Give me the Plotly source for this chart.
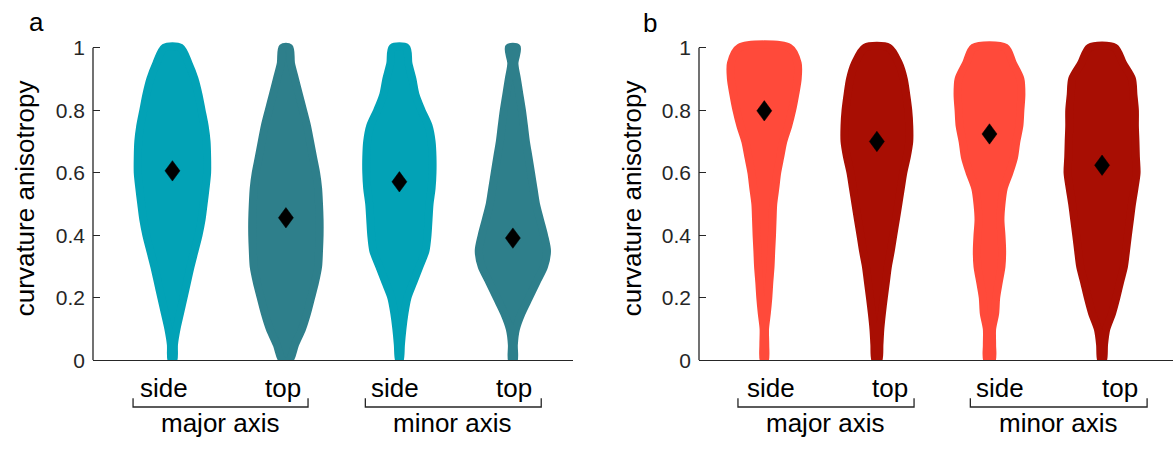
import plotly.graph_objects as go

# ---------------------------------------------------------------------------
# Data
# ---------------------------------------------------------------------------
# curvature-anisotropy levels at which each distribution's width is given
levels = [0.00, 0.05, 0.10, 0.15, 0.20, 0.25, 0.30, 0.35, 0.40, 0.45, 0.50,
          0.55, 0.60, 0.65, 0.70, 0.75, 0.80, 0.85, 0.90, 0.95, 1.00]

view_labels = ["side", "top", "side", "top"]
axis_labels = ["major axis", "minor axis"]

# half-width of each swarm at every level, in % of the spacing between groups
a_major_side = [4.4, 4.9, 7.1, 10.2, 13.3, 16.4, 19.5, 23.0, 26.5, 29.2, 31.0,
                32.7, 34.1, 34.1, 33.6, 31.9, 29.2, 26.5, 23.0, 17.7, 10.6]
a_major_top = [6.6, 11.5, 17.7, 22.1, 25.7, 29.2, 31.9, 32.7, 33.2, 33.2, 32.7,
               31.9, 30.1, 27.4, 24.8, 22.1, 18.6, 15.0, 11.5, 8.0, 6.6]
a_minor_side = [0.9, 4.9, 6.2, 8.0, 10.6, 15.9, 21.2, 26.5, 28.3, 29.2, 30.1,
                31.9, 32.7, 32.7, 31.9, 29.2, 23.0, 17.7, 15.0, 11.5, 9.7]
a_minor_top = [4.4, 4.4, 6.2, 11.1, 17.7, 24.3, 31.0, 33.6, 31.0, 27.4, 23.9,
               21.7, 19.5, 17.3, 15.0, 13.3, 11.5, 9.3, 7.1, 4.9, 7.1]

b_major_side = [4.2, 4.4, 4.2, 5.8, 7.1, 8.0, 9.1, 9.7, 10.4, 10.9, 11.5,
                13.3, 15.0, 17.7, 20.4, 24.8, 28.3, 31.0, 33.2, 33.2, 25.7]
b_major_top = [4.9, 5.8, 6.6, 8.0, 9.7, 11.5, 13.3, 15.9, 18.1, 20.4, 22.6,
               24.8, 27.0, 30.1, 32.3, 32.3, 31.4, 29.6, 27.4, 23.0, 14.2]
b_minor_side = [5.6, 5.9, 5.9, 8.6, 9.5, 11.8, 14.2, 14.8, 14.2, 13.3, 14.2,
                16.2, 21.2, 25.4, 27.4, 30.1, 31.0, 31.9, 31.0, 24.3, 17.7]
b_minor_top = [4.4, 5.3, 7.3, 12.4, 16.2, 19.5, 23.0, 24.8, 26.5, 28.3, 30.1,
               32.3, 34.2, 33.6, 33.2, 32.7, 32.7, 31.4, 30.1, 22.1, 14.8]

# group means (black diamonds)
a_means = [0.606, 0.456, 0.571, 0.391]
b_means = [0.798, 0.700, 0.724, 0.624]

y_tick_values = [0, 0.2, 0.4, 0.6, 0.8, 1.0]
y_tick_text = ["0", "0.2", "0.4", "0.6", "0.8", "1"]

# ---------------------------------------------------------------------------
# Layout / style
# ---------------------------------------------------------------------------
W, H = 1173, 451
FONT = "Liberation Sans, Arial, Helvetica, sans-serif"
AX_COLOR = "#262626"
Y_TOP = 1.03
PLOT_TOP_PX, PLOT_BOTTOM_PX = 369 - 322 * Y_TOP, 369
OUTLINE = 8  # outline width of each swarm, px

panels = [
    dict(letter="a", xaxis="x", yaxis="y", x_px=(93, 573), xrange=(0.3, 4.53),
         widths=[a_major_side, a_major_top, a_minor_side, a_minor_top],
         means=a_means,
         colors=["#02A2B6", "#2E7F8B", "#02A2B6", "#2E7F8B"],
         title_x_px=25, letter_px=(36, 21),
         view_x=[0.93, 1.97, 2.96, 4.01], group_x=[1.42, 3.46],
         brackets=[(0.653, 2.195), (2.70, 4.25)]),
    dict(letter="b", xaxis="x2", yaxis="y2", x_px=(699, 1173), xrange=(0.42, 4.63),
         widths=[b_major_side, b_major_top, b_minor_side, b_minor_top],
         means=b_means,
         colors=["#FF4A3A", "#A80E03", "#FF4A3A", "#A80E03"],
         title_x_px=632, letter_px=(650, 22),
         view_x=[1.06, 2.12, 3.09, 4.16], group_x=[1.54, 3.61],
         brackets=[(0.766, 2.33), (2.83, 4.40)]),
]

y_px_per_unit = (PLOT_BOTTOM_PX - PLOT_TOP_PX) / Y_TOP

fig = go.Figure()
shapes, annotations = [], []
layout_axes = {}

for p in panels:
    x0_px, x1_px = p["x_px"]
    px_per_unit = (x1_px - x0_px) / (p["xrange"][1] - p["xrange"][0])
    shrink = (OUTLINE / 2) / px_per_unit

    for i, (w, color) in enumerate(zip(p["widths"], p["colors"])):
        center = i + 1
        half = [max(v / 100 - shrink, 0.004) for v in w]
        xs = [center + h for h in half] + [center - h for h in half[::-1]]
        ys = levels + levels[::-1]
        fig.add_trace(go.Scatter(
            x=xs + [xs[0]], y=ys + [ys[0]], mode="lines", fill="toself",
            fillcolor=color,
            line=dict(color=color, width=OUTLINE, shape="spline", smoothing=0.8),
            xaxis=p["xaxis"], yaxis=p["yaxis"], hoverinfo="skip",
            showlegend=False))

    # mean markers drawn as tall diamonds
    dx = 7.5 / px_per_unit
    dy = 10.5 / y_px_per_unit
    for i, m in enumerate(p["means"]):
        c = i + 1
        fig.add_trace(go.Scatter(
            x=[c - dx, c, c + dx, c, c - dx], y=[m, m + dy, m, m - dy, m],
            mode="lines", fill="toself", fillcolor="black",
            line=dict(color="black", width=0.5),
            xaxis=p["xaxis"], yaxis=p["yaxis"], hoverinfo="skip",
            showlegend=False))

    suffix = p["xaxis"][1:]
    layout_axes["xaxis" + suffix] = dict(
        domain=[x0_px / W, x1_px / W], range=list(p["xrange"]),
        anchor=p["yaxis"], showline=True, linecolor=AX_COLOR, linewidth=1.3,
        showticklabels=False, ticks="", showgrid=False, zeroline=False)
    layout_axes["yaxis" + suffix] = dict(
        domain=[(H - PLOT_BOTTOM_PX) / H, (H - PLOT_TOP_PX) / H],
        range=[0, Y_TOP], anchor=p["xaxis"], showline=False,
        tickvals=y_tick_values, ticktext=y_tick_text, ticks="inside",
        ticklen=7, tickwidth=1.3, tickcolor=AX_COLOR, ticklabelstandoff=7,
        tickfont=dict(family=FONT, size=21, color=AX_COLOR),
        showgrid=False, zeroline=False)

    # y axis line only spans 0..1
    shapes.append(dict(type="line", xref=p["xaxis"] + " domain", x0=0, x1=0,
                       yref=p["yaxis"], y0=0, y1=1,
                       line=dict(color=AX_COLOR, width=1.3)))

    # group brackets under the axis
    yb_top = (H - 408) / H
    yb_bot = (H - 417) / H
    for (bx0, bx1) in p["brackets"]:
        shapes.append(dict(
            type="path", xref=p["xaxis"], yref="paper",
            path=f"M {bx0},{yb_top} L {bx0},{yb_bot} L {bx1},{yb_bot} L {bx1},{yb_top}",
            line=dict(color=AX_COLOR, width=1.3)))

    for x, t in zip(p["view_x"], view_labels):
        annotations.append(dict(x=x, y=(H - 397) / H, xref=p["xaxis"], yref="paper",
                                text=t, showarrow=False, xanchor="center",
                                yanchor="middle",
                                font=dict(family=FONT, size=26, color="black")))
    for x, t in zip(p["group_x"], axis_labels):
        annotations.append(dict(x=x, y=(H - 434) / H, xref=p["xaxis"], yref="paper",
                                text=t, showarrow=False, xanchor="center",
                                yanchor="middle",
                                font=dict(family=FONT, size=26, color="black")))

    annotations.append(dict(x=p["title_x_px"] / W, y=(H - 202) / H, xref="paper",
                            yref="paper", text="curvature anisotropy",
                            textangle=-90, showarrow=False, xanchor="center",
                            yanchor="middle",
                            font=dict(family=FONT, size=26, color="black")))
    lx, ly = p["letter_px"]
    annotations.append(dict(x=lx / W, y=(H - ly) / H, xref="paper", yref="paper",
                            text=p["letter"], showarrow=False, xanchor="center",
                            yanchor="middle",
                            font=dict(family=FONT, size=26, color="black")))

fig.update_layout(
    width=W, height=H, margin=dict(l=0, r=0, t=0, b=0),
    paper_bgcolor="white", plot_bgcolor="white",
    shapes=shapes, annotations=annotations, **layout_axes)

fig.write_html("out.html")
